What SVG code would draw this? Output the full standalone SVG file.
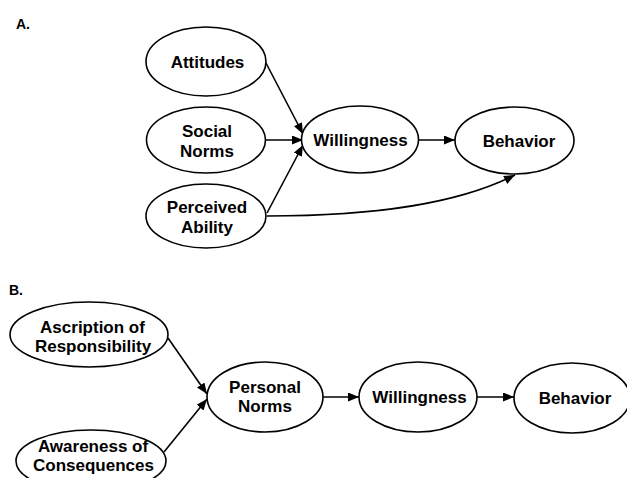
<svg xmlns="http://www.w3.org/2000/svg" width="627" height="478" viewBox="0 0 627 478">
<style>
.n ellipse{fill:#fff;stroke:#000;stroke-width:1.6}
text{font-family:"Liberation Sans",Arial,sans-serif;font-weight:bold;font-size:17px;text-anchor:middle;fill:#000}
.lbl{font-size:14px;text-anchor:start}
.c path{fill:none;stroke:#000;stroke-width:1.6}
</style>
<defs>
<marker id="ah" markerUnits="userSpaceOnUse" markerWidth="12" markerHeight="10" refX="11" refY="4.5" orient="auto">
<path d="M0,0 L11,4.5 L0,9 z" fill="#000"/>
</marker>
</defs>
<text class="lbl" x="16" y="29">A.</text>
<text class="lbl" x="9" y="295">B.</text>
<g class="c">
<path d="M266,63 L303,134" marker-end="url(#ah)"/>
<path d="M266,140 L303,140" marker-end="url(#ah)"/>
<path d="M267,213 L303,145" marker-end="url(#ah)"/>
<path d="M419,140 L455,140" marker-end="url(#ah)"/>
<path d="M267,216 C380,216 460,203 515,175" marker-end="url(#ah)"/>
<path d="M168,338 L207,394" marker-end="url(#ah)"/>
<path d="M164,452 L207,399" marker-end="url(#ah)"/>
<path d="M323,397 L359,397" marker-end="url(#ah)"/>
<path d="M477,397 L514,397" marker-end="url(#ah)"/>
</g>
<g class="n" id="attitudes"><ellipse cx="206" cy="61.5" rx="60" ry="34.5"/><text x="207.5" y="68">Attitudes</text></g>
<g class="n" id="social-norms"><ellipse cx="206" cy="140" rx="59.5" ry="33"/><text x="207" y="137">Social</text><text x="207" y="157">Norms</text></g>
<g class="n" id="perceived-ability"><ellipse cx="206" cy="216" rx="60" ry="32"/><text x="207" y="213">Perceived</text><text x="207" y="233">Ability</text></g>
<g class="n" id="willingness-a"><ellipse cx="360" cy="139.5" rx="58.5" ry="33.5"/><text x="360.5" y="146">Willingness</text></g>
<g class="n" id="behavior-a"><ellipse cx="514.5" cy="140.5" rx="59.5" ry="33.5"/><text x="519" y="147">Behavior</text></g>
<g class="n" id="ascription"><ellipse cx="89" cy="334.5" rx="79" ry="32.5"/><text x="92.5" y="333">Ascription of</text><text x="93" y="352">Responsibility</text></g>
<g class="n" id="awareness"><ellipse cx="91" cy="461" rx="75" ry="31"/><text x="93" y="451.5">Awareness of</text><text x="93.5" y="471">Consequences</text></g>
<g class="n" id="personal-norms"><ellipse cx="265" cy="397" rx="58" ry="35"/><text x="265" y="393">Personal</text><text x="265" y="412">Norms</text></g>
<g class="n" id="willingness-b"><ellipse cx="418" cy="397" rx="59" ry="35"/><text x="419.5" y="403">Willingness</text></g>
<g class="n" id="behavior-b"><ellipse cx="572" cy="398" rx="58" ry="35"/><text x="575" y="404">Behavior</text></g>
</svg>
